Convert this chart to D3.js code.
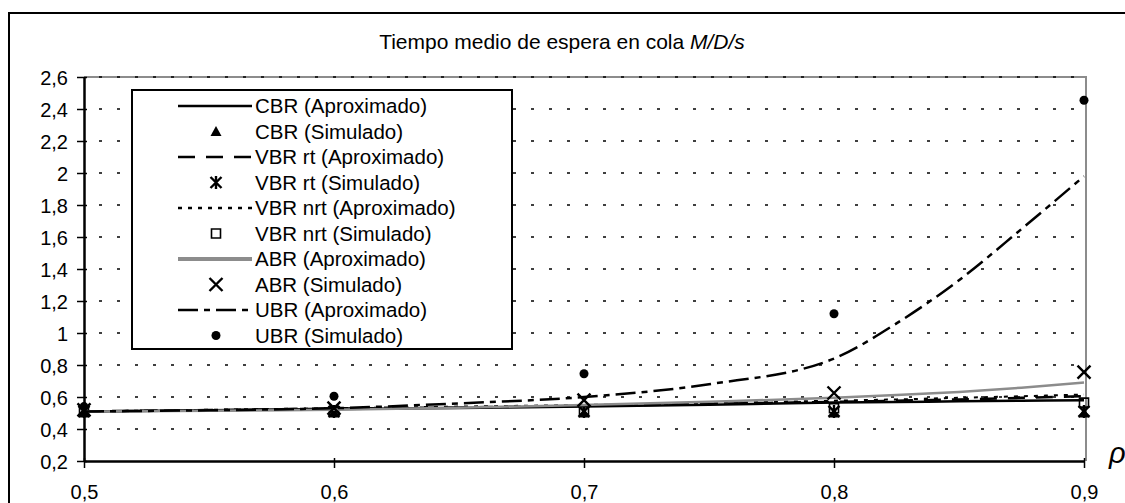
<!DOCTYPE html>
<html>

<head>
    <title>Tiempo medio de espera en cola M/D/s</title>
    <meta http-equiv="content-type" content="text/html; charset=utf-8">
    <script src="https://cdn.jsdelivr.net/npm/d3@7"></script>
    <style>
        body { margin: 0; background: #fff; }
        svg text { font-family: Arial, "Liberation Sans", sans-serif; fill: #000; }
    </style>
</head>

<body>
</body>
<script type="text/javascript">
// Carga ofrecida (rho) y tiempos medios de espera
var rhoSim = [0.5, 0.6, 0.7, 0.8, 0.9];
var rhoAprox = [0.5, 0.55, 0.6, 0.65, 0.7, 0.75, 0.8, 0.825, 0.85, 0.875, 0.9];

var cbrAprox = [0.51, 0.517, 0.525, 0.532, 0.54, 0.552, 0.565, 0.569, 0.573, 0.577, 0.58];
var vbrRtAprox = [0.51, 0.518, 0.527, 0.535, 0.545, 0.557, 0.57, 0.577, 0.585, 0.595, 0.605];
var vbrNrtAprox = [0.51, 0.52, 0.53, 0.54, 0.55, 0.562, 0.577, 0.585, 0.595, 0.605, 0.615];
var abrAprox = [0.51, 0.514, 0.52, 0.533, 0.55, 0.57, 0.595, 0.612, 0.632, 0.658, 0.69];
var ubrAprox = [0.51, 0.517, 0.53, 0.56, 0.6, 0.68, 0.84, 1.06, 1.33, 1.65, 1.98];

var cbrSim = [0.5, 0.5, 0.5, 0.5, 0.5];
var vbrRtSim = [0.51, 0.51, 0.51, 0.51, 0.51];
var vbrNrtSim = [0.51, 0.51, 0.52, 0.53, 0.565];
var abrSim = [0.52, 0.53, 0.58, 0.625, 0.755];
var ubrSim = [0.54, 0.605, 0.745, 1.12, 2.455];

var yTicks = [0.2, 0.4, 0.6, 0.8, 1, 1.2, 1.4, 1.6, 1.8, 2, 2.2, 2.4, 2.6];
var xTicks = [0.5, 0.6, 0.7, 0.8, 0.9];

var legendLabels = ['CBR (Aproximado)', 'CBR (Simulado)', 'VBR rt (Aproximado)', 'VBR rt (Simulado)',
    'VBR nrt (Aproximado)', 'VBR nrt (Simulado)', 'ABR (Aproximado)', 'ABR (Simulado)',
    'UBR (Aproximado)', 'UBR (Simulado)'];

var width = 1125,
    height = 503;
var plotLeft = 84, plotRight = 1084, plotTop = 77, plotBottom = 461;

// coma decimal
var es = d3.formatLocale({ decimal: ',', thousands: '.', grouping: [3], currency: ['', ' €'] });
var fmt = es.format('.1~f');

var x = d3.scaleLinear().domain([0.5, 0.9]).range([plotLeft, plotRight]);
var y = d3.scaleLinear().domain([0.2, 2.6]).range([plotBottom, plotTop]);

var svg = d3.select('body').append('svg')
    .attr('width', width)
    .attr('height', height);

// marco exterior
svg.append('rect')
    .attr('x', 9).attr('y', 13)
    .attr('width', 1140).attr('height', 520)
    .attr('fill', 'none').attr('stroke', '#000').attr('stroke-width', 2);

svg.append('text')
    .attr('x', 562).attr('y', 49)
    .attr('text-anchor', 'middle')
    .style('font-size', '21px')
    .text('Tiempo medio de espera en cola ')
    .append('tspan').style('font-style', 'italic').text('M/D/s');

// borde gris del area de trazado
svg.append('path')
    .attr('d', 'M' + plotLeft + ',' + y(2.6) + 'H' + (plotRight + 2) + 'V' + plotBottom)
    .attr('fill', 'none').attr('stroke', '#8c8c8c').attr('stroke-width', 2);

// lineas de division punteadas
svg.append('g').selectAll('line')
    .data(yTicks.filter(function(d) { return d > 0.2; }))
    .enter().append('line')
    .attr('x1', plotLeft + 15).attr('x2', plotRight - 5)
    .attr('y1', function(d) { return y(d); })
    .attr('y2', function(d) { return y(d); })
    .attr('stroke', '#000').attr('stroke-width', 1.3)
    .attr('stroke-dasharray', '3,15');

var line = d3.line()
    .x(function(d) { return x(d[0]); })
    .y(function(d) { return y(d[1]); })
    .curve(d3.curveMonotoneX);

var approx = [
    { v: cbrAprox, color: '#000', w: 2.5, dash: null },
    { v: vbrRtAprox, color: '#000', w: 2.5, dash: '17,11' },
    { v: vbrNrtAprox, color: '#000', w: 2, dash: '4,6' },
    { v: abrAprox, color: '#8c8c8c', w: 2.5, dash: null },
    { v: ubrAprox, color: '#000', w: 2.5, dash: '20,6,6,6' }
];

// simbolos de los valores simulados
var markerPath = {
    tri: 'M0,-5.5L5.5,4.5L-5.5,4.5Z',
    star: 'M-5.5,-5.5L5.5,5.5M-5.5,5.5L5.5,-5.5M0,-6.5V6.5',
    square: 'M-4.5,-4.5H4.5V4.5H-4.5Z',
    cross: 'M-6.5,-6.5L6.5,6.5M-6.5,6.5L6.5,-6.5',
    dot: null
};
var sims = [
    { v: cbrSim, type: 'tri' },
    { v: vbrRtSim, type: 'star' },
    { v: vbrNrtSim, type: 'square' },
    { v: abrSim, type: 'cross' },
    { v: ubrSim, type: 'dot' }
];

var drawMarker = function(g, type) {
    if (type === 'dot') {
        g.append('circle').attr('r', 4.5).attr('fill', '#000');
    } else if (type === 'tri') {
        g.append('path').attr('d', markerPath.tri).attr('fill', '#000');
    } else {
        g.append('path').attr('d', markerPath[type])
            .attr('fill', 'none').attr('stroke', '#000')
            .attr('stroke-width', type === 'square' ? 1.6 : 2.4);
    }
};

for (var i = 0; i < 5; i++) {
    var s = approx[i];
    svg.append('path')
        .datum(d3.zip(rhoAprox, s.v))
        .attr('d', line)
        .attr('fill', 'none')
        .attr('stroke', s.color)
        .attr('stroke-width', s.w)
        .attr('stroke-dasharray', s.dash);

    var m = sims[i];
    svg.append('g').selectAll('g')
        .data(d3.zip(rhoSim, m.v))
        .enter().append('g')
        .attr('transform', function(d) { return 'translate(' + x(d[0]) + ',' + y(d[1]) + ')'; })
        .each(function() { drawMarker(d3.select(this), m.type); });
}

// ejes
var yAxis = svg.append('g')
    .attr('transform', 'translate(' + plotLeft + ',0)')
    .call(d3.axisLeft(y).tickValues(yTicks).tickFormat(fmt).tickSizeInner(7).tickSizeOuter(0).tickPadding(9));
yAxis.selectAll('.tick line').attr('x1', 3).attr('stroke-width', 1.5);
yAxis.select('.domain').attr('stroke-width', 2.5);
yAxis.selectAll('text').style('font-size', '20px').attr('dy', '0.36em');

var xAxis = svg.append('g')
    .attr('transform', 'translate(0,' + plotBottom + ')')
    .call(d3.axisBottom(x).tickValues(xTicks).tickFormat(fmt).tickSizeInner(7).tickSizeOuter(0).tickPadding(21));
xAxis.selectAll('.tick line').attr('y1', -3).attr('stroke-width', 1.5);
xAxis.select('.domain').attr('stroke-width', 2.5);
xAxis.selectAll('text').style('font-size', '20px').attr('dy', '0.5em');

svg.append('text')
    .attr('x', 1109).attr('y', 463)
    .style('font-size', '29px').style('font-style', 'italic')
    .text('ρ');

// leyenda
var legend = svg.append('g');
legend.append('rect')
    .attr('x', 132).attr('y', 90)
    .attr('width', 380).attr('height', 259)
    .attr('fill', '#fff').attr('stroke', '#000').attr('stroke-width', 2);

var rows = legend.selectAll('g.row')
    .data(legendLabels)
    .enter().append('g')
    .attr('class', 'row')
    .attr('transform', function(d, i) { return 'translate(0,' + (106 + i * 25.5) + ')'; });

rows.append('text')
    .attr('x', 255).attr('y', 7)
    .style('font-size', '20.5px')
    .text(function(d) { return d; });

rows.each(function(d, i) {
    var g = d3.select(this);
    if (i % 2 === 0) {
        var s = approx[i / 2];
        g.append('line')
            .attr('x1', 178).attr('x2', 252)
            .attr('stroke', s.color)
            .attr('stroke-width', s.color === '#000' ? 2.5 : 4)
            .attr('stroke-dasharray', s.dash);
    } else {
        var mg = g.append('g').attr('transform', 'translate(216,0)');
        drawMarker(mg, sims[(i - 1) / 2].type);
    }
});

</script>

</html>
